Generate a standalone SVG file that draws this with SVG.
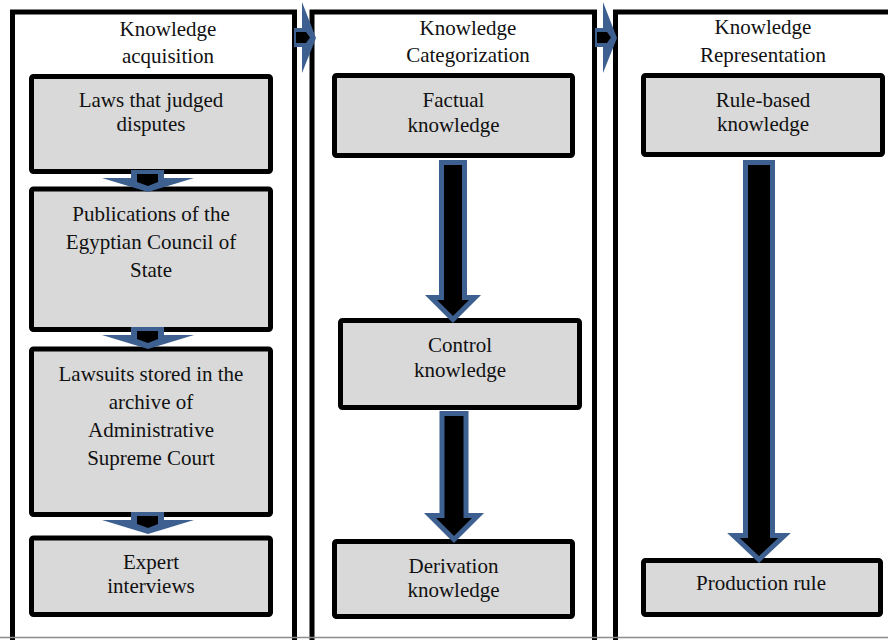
<svg xmlns="http://www.w3.org/2000/svg" width="888" height="640" viewBox="0 0 888 640">
  <style>
    .panel { fill: #ffffff; stroke: #000000; stroke-width: 5; }
    .box { fill: #d9d9d9; stroke: #000000; stroke-width: 5; }
    .lbl { font-family: 'Liberation Serif', 'DejaVu Serif', serif; font-size: 21px; fill: #111111; text-anchor: middle; }
    .big { fill: #000000; stroke: #3d6091; stroke-width: 5; stroke-linejoin: miter; stroke-miterlimit: 10; }
    .wing { fill: #3d6091; }
    .core { fill: #000000; }
  </style>
  <defs>
    <!-- short downward block arrow used between stacked boxes -->
    <g id="stepDown">
      <polygon class="wing" points="131,0 164,0 164,8 194,8 148,22 102,8 131,8"/>
      <polygon class="core" points="137,4 158,4 158,12 148,16 137,12"/>
    </g>
    <!-- short rightward block arrow used between panels -->
    <g id="stepRight">
      <polygon class="wing" points="0,28 8,28 8,2 22,38 8,73 8,47 0,47"/>
      <polygon class="core" points="2,32 12,32 16,37.5 12,43 2,43"/>
    </g>
  </defs>

  <!-- column panels -->
  <g id="panel-acquisition">
    <rect class="panel" x="12.5" y="12" width="282" height="700"/>
    <text class="lbl" x="168" y="36">Knowledge</text>
    <text class="lbl" x="168" y="63">acquisition</text>
  </g>
  <g id="panel-categorization">
    <rect class="panel" x="312" y="12" width="282.5" height="700"/>
    <text class="lbl" x="468" y="34.5">Knowledge</text>
    <text class="lbl" x="468" y="62">Categorization</text>
  </g>
  <g id="panel-representation">
    <rect class="panel" x="615.5" y="12" width="284" height="700"/>
    <text class="lbl" x="763" y="34">Knowledge</text>
    <text class="lbl" x="763" y="61.5">Representation</text>
  </g>

  <!-- acquisition sources -->
  <g id="node-laws">
    <rect class="box" x="31.5" y="76.5" width="239" height="95" rx="2"/>
    <text class="lbl" x="151" y="107">Laws that judged</text>
    <text class="lbl" x="151" y="130.5">disputes</text>
  </g>
  <g id="node-publications">
    <rect class="box" x="31.5" y="189" width="239" height="140.5" rx="2"/>
    <text class="lbl" x="151" y="221">Publications of the</text>
    <text class="lbl" x="151" y="249">Egyptian Council of</text>
    <text class="lbl" x="151" y="277">State</text>
  </g>
  <g id="node-lawsuits">
    <rect class="box" x="31.5" y="349" width="239" height="165.5" rx="2"/>
    <text class="lbl" x="151" y="381">Lawsuits stored in the</text>
    <text class="lbl" x="151" y="409">archive of</text>
    <text class="lbl" x="151" y="437">Administrative</text>
    <text class="lbl" x="151" y="465">Supreme Court</text>
  </g>
  <g id="node-expert">
    <rect class="box" x="31.5" y="538" width="239" height="76.5" rx="2"/>
    <text class="lbl" x="151" y="569">Expert</text>
    <text class="lbl" x="151" y="593">interviews</text>
  </g>

  <!-- categorization -->
  <g id="node-factual">
    <rect class="box" x="334.5" y="75.5" width="238" height="80" rx="2"/>
    <text class="lbl" x="453.5" y="107">Factual</text>
    <text class="lbl" x="453.5" y="132">knowledge</text>
  </g>
  <g id="node-control">
    <rect class="box" x="340.5" y="320.5" width="239" height="87" rx="2"/>
    <text class="lbl" x="460" y="352">Control</text>
    <text class="lbl" x="460" y="377">knowledge</text>
  </g>
  <g id="node-derivation">
    <rect class="box" x="334.5" y="541.5" width="238" height="75" rx="2"/>
    <text class="lbl" x="453.5" y="573">Derivation</text>
    <text class="lbl" x="453.5" y="597">knowledge</text>
  </g>

  <!-- representation -->
  <g id="node-rulebased">
    <rect class="box" x="643.5" y="75.5" width="239" height="79" rx="2"/>
    <text class="lbl" x="763" y="107">Rule-based</text>
    <text class="lbl" x="763" y="131">knowledge</text>
  </g>
  <g id="node-production">
    <rect class="box" x="643.5" y="560.5" width="237" height="54" rx="2"/>
    <text class="lbl" x="761" y="590">Production rule</text>
  </g>

  <!-- lower edge of the frame -->
  <line x1="0" y1="637.5" x2="888" y2="637.5" stroke="#8c8c8c" stroke-width="1.5"/>

  <!-- connectors -->
  <g id="connectors">
    <use href="#stepDown" transform="translate(0,170)"/>
    <use href="#stepDown" transform="translate(0,327)"/>
    <use href="#stepDown" transform="translate(0,512)"/>
    <use href="#stepRight" transform="translate(294,0)"/>
    <use href="#stepRight" transform="translate(595,0)"/>
    <path class="big" d="M441.5,162.5 H464.5 V297.5 H475 L453,319.5 L431,297.5 H441.5 Z"/>
    <path class="big" d="M442,413.5 H466 V515.5 H478 L454,539.5 L430,515.5 H442 Z"/>
    <path class="big" d="M745.5,162.5 H772.5 V535.5 H784.5 L759,559.5 L733.5,535.5 H745.5 Z"/>
  </g>
</svg>
